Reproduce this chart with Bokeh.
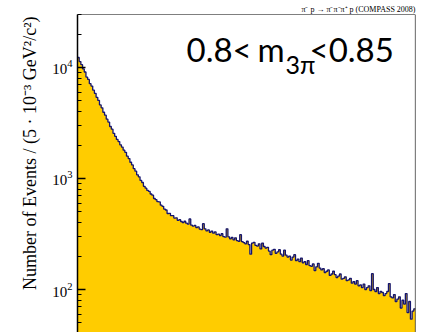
from bokeh.plotting import figure
from bokeh.models import Range1d, Label, Span, LogTicker, Title
from bokeh.embed import file_html
from bokeh.resources import INLINE

# ---- data: 200 bins of 5e-3 GeV^2 from 0 to 1 ----
bin_lo = 0.0
bin_hi = 1.0
counts = [
    12300, 11300, 10600, 9700, 9100, 8200, 7800, 7150, 6800, 6250,
    5850, 5380, 5050, 4600, 4330, 3950, 3720, 3420, 3220, 2940,
    2780, 2550, 2400, 2250, 2150, 2010, 1920, 1800, 1720, 1590,
    1510, 1400, 1325, 1225, 1165, 1080, 1035, 960, 920, 850,
    818, 780, 765, 725, 708, 660, 645, 618, 615, 575,
    562, 530, 520, 484, 486, 462, 462, 440, 442, 420,
    425, 410, 400, 412, 396, 388, 432, 380, 372, 378,
    362, 366, 350, 346, 392, 352, 338, 344, 328, 336,
    322, 330, 312, 316, 306, 318, 300, 296, 352, 298,
    286, 294, 280, 292, 276, 272, 312, 270, 264, 258,
    272, 254, 208, 262, 266, 250, 246, 258, 232, 262,
    244, 236, 240, 222, 206, 226, 230, 212, 218, 228,
    208, 200, 226, 204, 196, 200, 184, 196, 206, 182,
    188, 178, 192, 174, 178, 168, 182, 164, 162, 170,
    148, 160, 172, 156, 150, 154, 142, 146, 150, 134,
    138, 146, 136, 128, 132, 138, 124, 126, 130, 120,
    122, 126, 114, 118, 112, 120, 108, 110, 104, 112,
    100, 104, 108, 98, 139, 100, 96, 104, 92, 96,
    94, 88, 92, 96, 113, 86, 84, 90, 78, 82,
    86, 68, 80, 74, 92, 62, 78, 54, 64, 67,
]
y_min = 41
y_max = 30000
y_title = "Number of Events / (5 · 10⁻³ GeV²/c²)"
header_text = "π⁻ p → π⁻π⁻π⁺ p (COMPASS 2008)"
range_lo_text = "0.8<"
range_m_text = "m"
range_sub_text = "3π"
range_hi_text = "<0.85"

n = len(counts)
width_bin = (bin_hi - bin_lo) / n
edges = [bin_lo + i * width_bin for i in range(n + 1)]
step_y = counts + [counts[-1]]

p = figure(width=433, height=332, y_axis_type="log",
           x_range=Range1d(bin_lo, bin_hi), y_range=Range1d(y_min, y_max),
           x_axis_location=None, output_backend="svg", toolbar_location=None,
           min_border_left=77, min_border_right=18, min_border_top=14,
           min_border_bottom=0)
p.outline_line_color = None
p.xgrid.visible = False
p.ygrid.visible = False
p.background_fill_color = "white"
p.border_fill_color = "white"

p.add_layout(Title(text=header_text, align="right", text_font="Liberation Serif",
                   text_font_style="normal", text_font_size="8px", text_color="black",
                   standoff=2), "above")

p.varea_step(x=edges, y1=1, y2=step_y, step_mode="after", fill_color="#FFCC00")
p.step(x=edges, y=step_y, mode="after", line_color="#14146e", line_width=1.3)

# frame borders top and right
p.add_layout(Span(location=y_max, dimension="width", line_color="black", line_width=1.2))
p.add_layout(Span(location=bin_hi, dimension="height", line_color="black", line_width=1.2))

ax = p.yaxis[0]
ax.ticker = LogTicker(num_minor_ticks=10)
ax.axis_line_color = "black"
ax.axis_line_width = 1.5
ax.major_tick_in = 8
ax.major_tick_out = 0
ax.minor_tick_in = 4
ax.minor_tick_out = 0
ax.major_tick_line_width = 1.3
ax.minor_tick_line_width = 1.1
ax.major_label_text_font = "Liberation Serif"
ax.major_label_text_font_size = "15px"
ax.major_label_text_color = "black"
ax.major_label_standoff = 5
ax.axis_label = "\u00a0" * 9 + y_title
ax.axis_label_text_font = "Liberation Serif"
ax.axis_label_text_font_style = "normal"
ax.axis_label_text_font_size = "18px"
ax.axis_label_text_color = "black"
ax.axis_label_standoff = 9


def px_to_x(px):
    return bin_lo + (px - 77) / 338 * (bin_hi - bin_lo)


def py_to_y(py):
    return 10 ** (4 + (67 - py) / 111)


big = dict(text_align="left", text_baseline="alphabetic", text_font="Lato",
           text_color="black")
p.add_layout(Label(x=px_to_x(186), y=py_to_y(48.5), text=range_lo_text, text_font_size="33px", **big))
p.add_layout(Label(x=px_to_x(257), y=py_to_y(48.5), text=range_m_text, text_font_size="33px", **big))
p.add_layout(Label(x=px_to_x(285), y=py_to_y(63.5), text=range_sub_text, text_font_size="25px", **big))
p.add_layout(Label(x=px_to_x(309), y=py_to_y(48.5), text=range_hi_text, text_font_size="33px", **big))

open("out.html", "w").write(file_html(p, INLINE))
